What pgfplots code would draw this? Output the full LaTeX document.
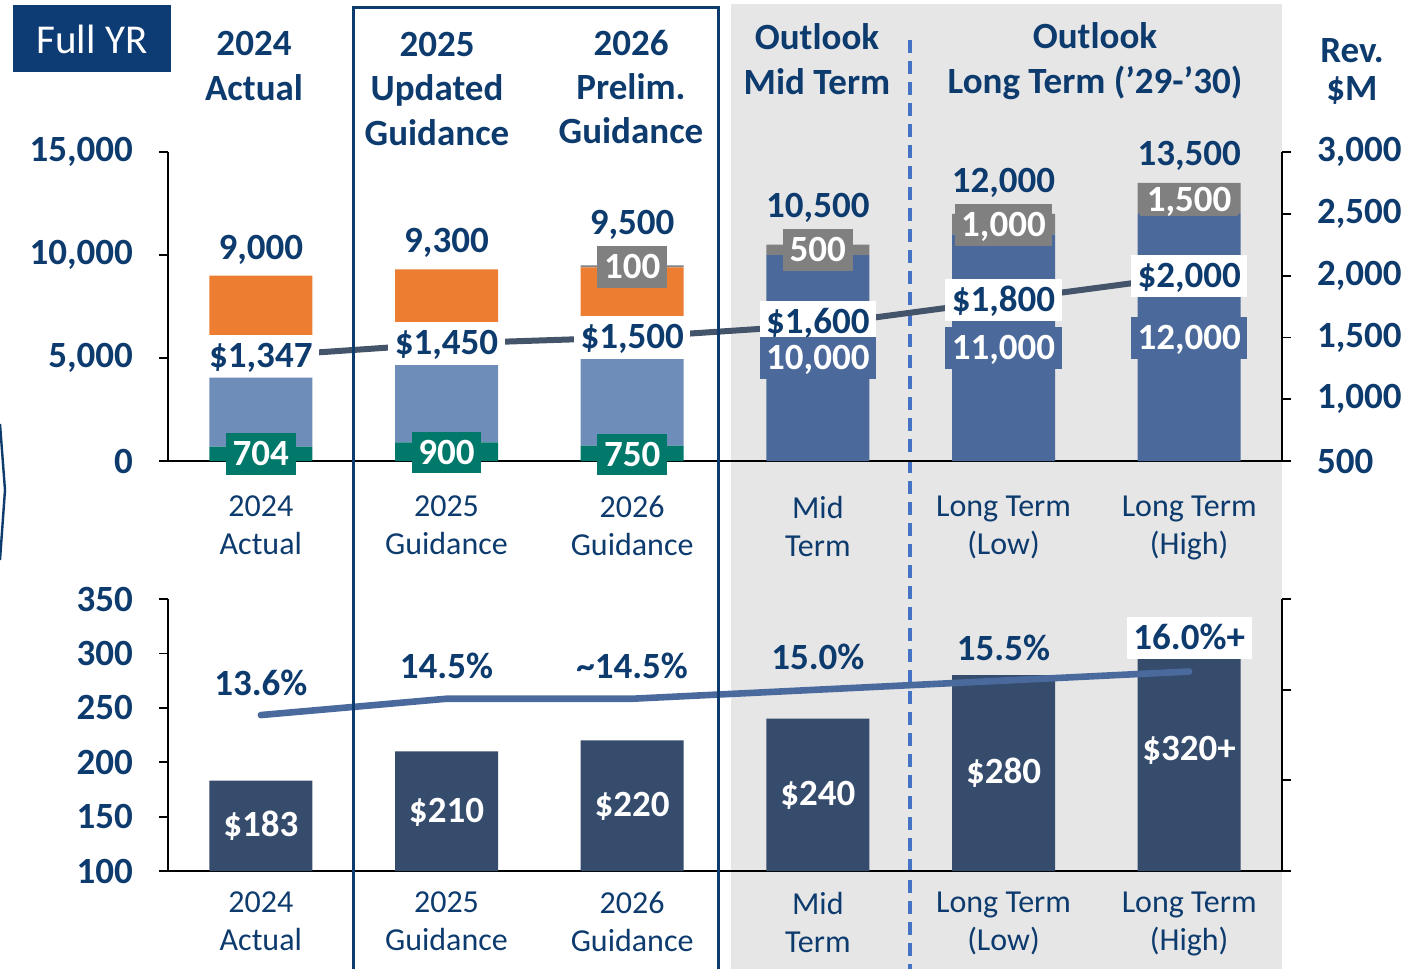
\documentclass[border=0pt]{standalone}
\usepackage{fontspec}
\setmainfont{Carlito}
\usepackage{pgfplots}
\pgfplotsset{compat=1.18}
\definecolor{dblue}{HTML}{0D3B6E}
\definecolor{boxblue}{HTML}{0D3B73}
\definecolor{orangec}{HTML}{ED7D31}
\definecolor{lblue}{HTML}{6E8DB9}
\definecolor{mblue}{HTML}{4B6A9B}
\definecolor{greenc}{HTML}{00796B}
\definecolor{grayc}{HTML}{808080}
\definecolor{botbar}{HTML}{364C6D}
\definecolor{topline}{HTML}{44546A}
\definecolor{botline}{HTML}{4A6A9E}
\definecolor{bggray}{HTML}{E6E6E6}
\definecolor{dashc}{HTML}{4472C4}
\newcommand{\bigb}{\fontsize{18.5}{22.2}\selectfont\bfseries}
\newcommand{\catf}{\fontsize{16}{19}\selectfont}
\pgfplotsset{
  common/.style={
    scale only axis, width=557pt, xmin=-0.5, xmax=5.5,
    axis line style={black, line width=0.9pt},
    tick style={black, line width=0.9pt},
    tick align=outside, major tick length=4.5pt,
    scaled y ticks=false,
    /pgf/number format/assume math mode=true,
    /pgf/number format/1000 sep={,},
    ticklabel style={font=\bigb, text=dblue},
    yticklabel shift=9.5pt,
  },
}
\tikzset{
  lbl/.style={font=\bigb, text=dblue},
  boxl/.style={font=\bigb, text height=11.7pt, text depth=0pt, inner ysep=4.5pt, inner xsep=3.3pt},
}
\begin{document}
\begin{tikzpicture}
\useasboundingbox (0,0) rectangle (708pt,-484pt);
% background shading and separators
\fill[bggray] (365.5pt,-2pt) rectangle (641pt,-490pt);
\draw[dashc, line width=1.8pt, dash pattern=on 6.5pt off 4pt] (455pt,-20pt) -- (455pt,-490pt);
\draw[dblue, line width=1.2pt] (0pt,-212pt) -- (2.5pt,-245pt) -- (0pt,-280pt);

% ---------------- TOP PANEL ----------------
\begin{axis}[common, at={(84pt,-230.5pt)}, anchor=south west, height=154.5pt,
  ymin=0, ymax=15000, ytick={0,5000,10000,15000},
  axis x line*=bottom, axis y line*=left,
  ybar stacked, bar width=51.5pt,
  xtick={0,1,2,3,4,5}, xtick style={draw=none},
  xticklabels={{2024\\Actual},{2025\\Guidance},{2026\\Guidance},{Mid\\Term},{Long Term\\(Low)},{Long Term\\(High)}},
  xticklabel style={align=center, font=\catf, text=dblue, yshift=-9.5pt},
]
\addplot[fill=greenc, draw=none] coordinates {(0,704)(1,900)(2,750)(3,0)(4,0)(5,0)};
\addplot[fill=lblue, draw=none] coordinates {(0,3346)(1,3750)(2,4200)(3,0)(4,0)(5,0)};
\addplot[fill=white, draw=none] coordinates {(0,1950)(1,2050)(2,2000)(3,0)(4,0)(5,0)};
\addplot[fill=orangec, draw=none] coordinates {(0,3000)(1,2600)(2,2450)(3,0)(4,0)(5,0)};
\addplot[fill=mblue, draw=none] coordinates {(0,0)(1,0)(2,0)(3,10000)(4,11000)(5,12000)};
\addplot[fill=grayc, draw=none] coordinates {(0,0)(1,0)(2,100)(3,500)(4,1000)(5,1500)};
\end{axis}

\begin{axis}[common, at={(84pt,-230.5pt)}, anchor=south west, height=154.5pt,
  ymin=500, ymax=3000, ytick={500,1000,1500,2000,2500,3000},
  axis y line*=right, axis x line=none, xtick=\empty, clip=false,
]
\addplot[topline, line width=3pt] coordinates {(0,1347)(1,1450)(2,1500)(3,1600)(4,1800)(5,2000)};
% totals
\node[lbl] at (axis cs:0,2207) {9,000};
\node[lbl] at (axis cs:1,2264) {9,300};
\node[lbl] at (axis cs:2,2409) {9,500};
\node[lbl] at (axis cs:3,2547) {10,500};
\node[lbl] at (axis cs:4,2749) {12,000};
\node[lbl] at (axis cs:5,2967) {13,500};
% revenue labels
\node[boxl, fill=white, text=dblue] at (axis cs:0,1349) {\$1,347};
\node[boxl, fill=white, text=dblue] at (axis cs:1,1455) {\$1,450};
\node[boxl, fill=white, text=dblue] at (axis cs:2,1503) {\$1,500};
\node[boxl, fill=white, text=dblue] at (axis cs:3,1625) {\$1,600};
\node[boxl, fill=white, text=dblue] at (axis cs:4,1802) {\$1,800};
\node[boxl, fill=white, text=dblue] at (axis cs:5,1997) {\$2,000};
% green
\node[boxl, fill=greenc, text=white] at (axis cs:0,557) {704};
\node[boxl, fill=greenc, text=white] at (axis cs:1,569) {900};
\node[boxl, fill=greenc, text=white] at (axis cs:2,553) {750};
% gray
\node[boxl, fill=grayc, text=white] at (axis cs:2,2069) {100};
\node[boxl, fill=grayc, text=white] at (axis cs:3,2207) {500};
\node[boxl, fill=grayc, text=white] at (axis cs:4,2409) {1,000};
\node[boxl, fill=grayc, text=white, inner ysep=2pt] at (axis cs:5,2611) {1,500};
% mid blue
\node[boxl, fill=mblue, text=white] at (axis cs:3,1333) {10,000};
\node[boxl, fill=mblue, text=white] at (axis cs:4,1414) {11,000};
\node[boxl, fill=mblue, text=white] at (axis cs:5,1495) {12,000};
\end{axis}

% ---------------- BOTTOM PANEL ----------------
\begin{axis}[common, at={(84pt,-435.5pt)}, anchor=south west, height=136pt,
  ymin=100, ymax=350, ytick={100,150,200,250,300,350},
  axis x line*=bottom, axis y line*=left,
  ybar, bar width=51.5pt,
  xtick={0,1,2,3,4,5}, xtick style={draw=none},
  xticklabels={{2024\\Actual},{2025\\Guidance},{2026\\Guidance},{Mid\\Term},{Long Term\\(Low)},{Long Term\\(High)}},
  xticklabel style={align=center, font=\catf, text=dblue, yshift=-2.5pt},
]
\addplot[fill=botbar, draw=none] coordinates {(0,183)(1,210)(2,220)(3,240)(4,280)(5,320)};
\node[lbl, text=white] at (axis cs:0,141.4) {\$183};
\node[lbl, text=white] at (axis cs:1,154.2) {\$210};
\node[lbl, text=white] at (axis cs:2,159.7) {\$220};
\node[lbl, text=white] at (axis cs:3,169.9) {\$240};
\node[lbl, text=white] at (axis cs:4,190.1) {\$280};
\node[lbl, text=white] at (axis cs:5,211.2) {\$320+};
\end{axis}

\begin{axis}[common, at={(84pt,-435.5pt)}, anchor=south west, height=136pt,
  ymin=5, ymax=20, ytick={5,10,15,20}, yticklabels={},
  axis y line*=right, axis x line=none, xtick=\empty, clip=false,
]
\addplot[botline, line width=3.3pt, line cap=round] coordinates {(0,13.6)(1,14.5)(2,14.5)(3,15.0)(4,15.5)(5,16.0)};
\node[lbl] at (axis cs:0,15.37) {13.6\%};
\node[lbl] at (axis cs:1,16.31) {14.5\%};
\node[lbl] at (axis cs:2,16.31) {\textasciitilde14.5\%};
\node[lbl] at (axis cs:3,16.80) {15.0\%};
\node[lbl] at (axis cs:4,17.30) {15.5\%};
\node[boxl, fill=white, text=dblue] at (axis cs:5,17.85) {16.0\%+};
\end{axis}

% outline of 2025/2026 guidance
\draw[dblue, line width=1.5pt] (176.5pt,-490pt) -- (176.5pt,-4pt) -- (359pt,-4pt) -- (359pt,-490pt);

% Full YR box
\fill[boxblue] (6.5pt,-2.5pt) rectangle (85.5pt,-36pt);
\node[text=white, font=\fontsize{20.5}{24}\selectfont] at (46pt,-19.5pt) {Full YR};

% headers
\node[lbl, align=center] at (127pt,-33pt) {2024\\Actual};
\node[lbl, align=center] at (218.5pt,-44.5pt) {2025\\Updated\\Guidance};
\node[lbl, align=center] at (315.5pt,-43.5pt) {2026\\Prelim.\\Guidance};
\node[lbl, align=center] at (408.5pt,-29.5pt) {Outlook\\Mid Term};
\node[lbl, align=center] at (547.5pt,-30.5pt) {Outlook\\Long Term (’29-’30)};
\node[font=\fontsize{18.5}{19}\selectfont\bfseries, text=dblue, align=center] at (676pt,-35.5pt) {Rev.\\\$M};
\end{tikzpicture}
\end{document}
